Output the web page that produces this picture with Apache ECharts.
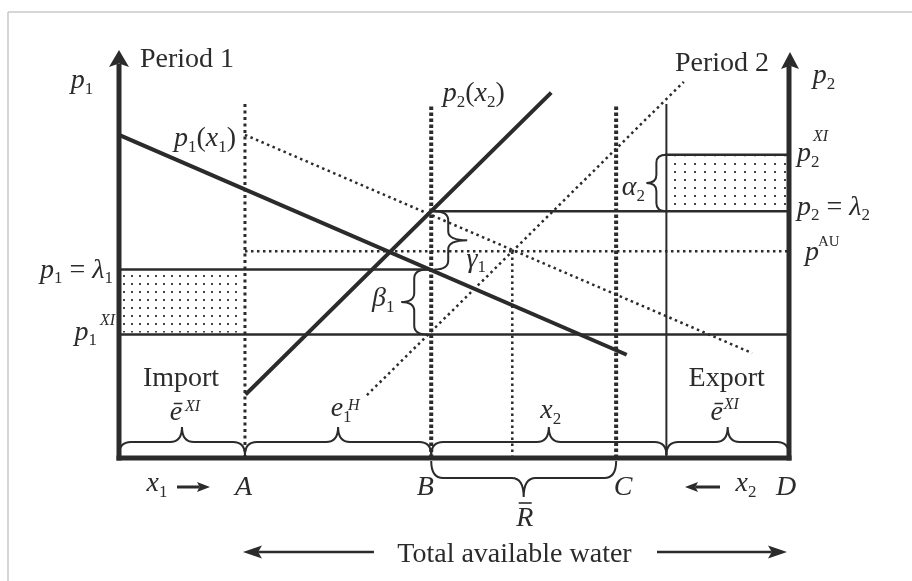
<!DOCTYPE html>
<html>
<head>
<meta charset="utf-8">
<script src="https://cdn.jsdelivr.net/npm/echarts@6/dist/echarts.min.js"></script>
<style>html,body{margin:0;padding:0;background:#fff}#c{width:912px;height:581px}</style>
</head>
<body>
<div id="c"></div>
<script>
// ---------------- data (water 0..100 from left axis to D; price 0..100 up the axis) ----------------
const pointNames = ['A', 'B', 'C', 'D'];
const pointX = [18.8, 46.6, 74.2, 100];
const exportX = 81.7;          // start of the export block
const autarkyX = 58.7;         // quantity where the shifted curves cross
const priceNames = ['p2XI', 'lambda2', 'pAU', 'lambda1', 'p1XI'];
const priceY = [74.3, 60.5, 50.7, 46.2, 30.3];
const p1Curve = [[0, 79.2], [75.5, 25.5]];          // p1(x1)
const p1Shifted = [[18.8, 79.2], [94.5, 25.7]];     // dotted, shifted p1
const p2Curve = [[19.1, 15.9], [64.3, 89.2]];       // p2(x2)
const p2Shifted = [[37.0, 15.4], [84.3, 92.2]];     // dotted, shifted p2
const dividerTops = [87.5, 86.5, 86.5, 86.5];       // tops of A, B, C dotted lines and export line
const axisTops = [100, 99.5];                       // arrow tips of the left and right price axes

// ---------------- helpers ----------------
const FONT = "'Liberation Serif','Times New Roman',serif";
const INK = '#2b2b2b';
const X = {O: 0, E: exportX, R: autarkyX};
pointNames.forEach((n, i) => X[n] = pointX[i]);
const P = {};
priceNames.forEach((n, i) => P[n] = priceY[i]);
const mid = (a, b) => (a + b) / 2;

function seg(pts, width, dash, z) {
  return {
    type: 'line', data: pts, symbol: 'none', silent: true, animation: false, clip: false,
    z: z || 2,
    lineStyle: {color: INK, width: width, type: dash || 'solid', cap: dash ? 'butt' : 'square'}
  };
}

function makePattern(w, h) {
  const cv = document.createElement('canvas');
  cv.width = w; cv.height = h;
  const ctx = cv.getContext('2d');
  ctx.fillStyle = '#444';
  ctx.fillRect(Math.floor(w / 2) - 1, Math.floor(h / 2) - 1, 2, 2);
  return {image: cv, repeat: 'repeat'};
}
const patLeft = makePattern(8, 8);
const patRight = makePattern(10, 8);

function bracePath(a, b, side, h, t, r) {
  if (side === 'up' || side === 'down') {
    const s = side === 'up' ? -1 : 1;
    const y0 = a[1], xa = Math.min(a[0], b[0]), xb = Math.max(a[0], b[0]);
    const yb = y0 + s * h, yt = yb + s * t, xm = (xa + xb) / 2;
    return `M${xa} ${y0}Q${xa} ${yb} ${xa + r} ${yb}L${xm - r} ${yb}Q${xm} ${yb} ${xm} ${yt}` +
      `Q${xm} ${yb} ${xm + r} ${yb}L${xb - r} ${yb}Q${xb} ${yb} ${xb} ${y0}`;
  }
  const s = side === 'left' ? -1 : 1;
  const x0 = a[0], ya = Math.min(a[1], b[1]), yc = Math.max(a[1], b[1]);
  const xb = x0 + s * h, xt = xb + s * t, ym = (ya + yc) / 2;
  return `M${x0} ${ya}Q${xb} ${ya} ${xb} ${ya + r}L${xb} ${ym - r}Q${xb} ${ym} ${xt} ${ym}` +
    `Q${xb} ${ym} ${xb} ${ym + r}L${xb} ${yc - r}Q${xb} ${yc} ${x0} ${yc}`;
}

// brace specs: endpoints in data, shape in pixels
const braceSpecs = [
  {a: [0, 0], b: [X.A, 0], side: 'up', off: [0, -3], h: 13, t: 15, r: 12},
  {a: [X.A, 0], b: [X.B, 0], side: 'up', off: [0, -3], h: 13, t: 15, r: 12},
  {a: [X.B, 0], b: [X.E, 0], side: 'up', off: [0, -3], h: 13, t: 15, r: 12},
  {a: [X.E, 0], b: [X.D, 0], side: 'up', off: [0, -3], h: 13, t: 15, r: 12},
  {a: [X.B, 0], b: [X.C, 0], side: 'down', off: [0, 3], h: 17, t: 19, r: 12},
  {a: [X.B, P.lambda2], b: [X.B, P.lambda1], side: 'right', off: [3, 0], h: 14, t: 19, r: 9},
  {a: [X.B, P.lambda1], b: [X.B, P.p1XI], side: 'left', off: [-4, 0], h: 13, t: 13, r: 9},
  {a: [X.E, P.p2XI], b: [X.E, P.lambda2], side: 'left', off: [0, 0], h: 10, t: 10, r: 8}
];

const RICH = {
  r: {fontFamily: FONT, fontSize: 28, fill: INK, lineHeight: 34},
  i: {fontFamily: FONT, fontSize: 28, fontStyle: 'italic', fill: INK, lineHeight: 34},
  s: {fontFamily: FONT, fontSize: 17, fill: INK, lineHeight: 17, verticalAlign: 'bottom'},
  u: {fontFamily: FONT, fontSize: 16, fontStyle: 'italic', fill: INK, lineHeight: 16},
  ur: {fontFamily: FONT, fontSize: 15, fill: INK, lineHeight: 15}
};

const labelSpecs = [
  {at: [0, axisTops[0]], dx: 68, dy: 10, text: '{r|Period 1}'},
  {at: [X.D, axisTops[0]], dx: -67, dy: 14, text: '{r|Period 2}'},
  {at: [0, axisTops[0]], dx: -37, dy: 31, text: '{i|p}{s|1}'},
  {at: [X.D, axisTops[0]], dx: 35, dy: 26, text: '{i|p}{s|2}'},
  {at: p1Curve[0], dx: 86, dy: 4, text: '{i|p}{s|1}{r|(}{i|x}{s|1}{r|)}'},
  {at: p2Curve[1], dx: -76, dy: 0, text: '{i|p}{s|2}{r|(}{i|x}{s|2}{r|)}'},
  {at: [X.D, P.p2XI], dx: 8, dy: -1, align: 'left', text: '{i|p}{s|2}'},
  {at: [X.D, P.p2XI], dx: 24, dy: -18, align: 'left', text: '{u|XI}'},
  {at: [X.D, P.lambda2], dx: 8, dy: -4, align: 'left', text: '{i|p}{s|2}{r| = }{i|λ}{s|2}'},
  {at: [X.D, P.pAU], dx: 16, dy: 1, align: 'left', text: '{i|p}'},
  {at: [X.D, P.pAU], dx: 29, dy: -9, align: 'left', text: '{ur|AU}'},
  {at: [0, P.lambda1], dx: -6, dy: 1, align: 'right', text: '{i|p}{s|1}{r| = }{i|λ}{s|1}'},
  {at: [0, P.p1XI], dx: -22, dy: -2, align: 'right', text: '{i|p}{s|1}'},
  {at: [0, P.p1XI], dx: -19, dy: -14, align: 'left', text: '{u|XI}'},
  {at: [mid(0, X.A), 0], dx: -1, dy: -79, text: '{r|Import}'},
  {at: [mid(0, X.A), 0], dx: -6, dy: -45, text: '{i|ē}'},
  {at: [mid(0, X.A), 0], dx: 3, dy: -51, align: 'left', text: '{u|XI}'},
  {at: [mid(X.A, X.B), 0], dx: 3, dy: -49, text: '{i|e}{s|1}'},
  {at: [mid(X.A, X.B), 0], dx: 10, dy: -52, align: 'left', text: '{u|H}'},
  {at: [mid(X.B, X.E), 0], dx: 2, dy: -47, text: '{i|x}{s|2}'},
  {at: [mid(X.E, X.D), 0], dx: -1, dy: -79, text: '{r|Export}'},
  {at: [mid(X.E, X.D), 0], dx: -11, dy: -45, text: '{i|ē}'},
  {at: [mid(X.E, X.D), 0], dx: -4, dy: -53, align: 'left', text: '{u|XI}'},
  {at: [0, 0], dx: 38, dy: 26, text: '{i|x}{s|1}'},
  {at: [X.A, 0], dx: -1.5, dy: 30, text: '{i|A}'},
  {at: [X.B, 0], dx: -6, dy: 30, text: '{i|B}'},
  {at: [X.C, 0], dx: 7, dy: 30, text: '{i|C}'},
  {at: [X.D, 0], dx: -3, dy: 30, text: '{i|D}'},
  {at: [X.D, 0], dx: -43, dy: 26, text: '{i|x}{s|2}'},
  {at: [mid(X.B, X.C), 0], dx: 1, dy: 61, text: '{i|R}'},
  {at: [X.B, P.lambda1], dx: 45, dy: -10, text: '{i|γ}{s|1}'},
  {at: [X.B, mid(P.lambda1, P.p1XI)], dx: -48, dy: -3, text: '{i|β}{s|1}'},
  {at: [X.E, mid(P.p2XI, P.lambda2)], dx: -33, dy: 5, text: '{i|α}{s|2}'},
  {at: [mid(X.A, X.D), 0], dx: -2.5, dy: 97, text: '{r|Total available water}'}
];

// arrows: tip in data + pixel offset, direction, total length, head length, half width
const arrowSpecs = [
  {tip: [0, axisTops[0]], off: [0, 0], dir: 'up', len: 0, head: 17, half: 10},
  {tip: [X.D, axisTops[1]], off: [1, 0], dir: 'up', len: 0, head: 17, half: 9},
  {tip: [0, 0], off: [91, 29], dir: 'right', len: 33, head: 13, half: 5, lw: 3},
  {tip: [X.D, 0], off: [-104, 29], dir: 'left', len: 35, head: 13, half: 5, lw: 3},
  {tip: [X.A, 0], off: [-2, 94], dir: 'left', len: 131, head: 19, half: 6.5, lw: 2.5},
  {tip: [X.D, 0], off: [-2, 94], dir: 'right', len: 130, head: 19, half: 6.5, lw: 2.5}
];

function renderDecor(params, api) {
  const children = [];
  const pt = (d, off) => { const p = api.coord(d); return [p[0] + (off ? off[0] : 0), p[1] + (off ? off[1] : 0)]; };
  // dotted fill areas
  [[[0, P.lambda1], [X.A, P.p1XI], patLeft], [[X.E, P.p2XI], [X.D, P.lambda2], patRight]].forEach(r => {
    const a = pt(r[0]), b = pt(r[1]);
    children.push({type: 'rect', z2: 0, shape: {x: a[0] + 3, y: a[1] + 2, width: b[0] - a[0] - 6, height: b[1] - a[1] - 4},
      style: {fill: r[2]}});
  });
  // braces
  braceSpecs.forEach(bs => {
    const a = pt(bs.a, bs.off), b = pt(bs.b, bs.off);
    children.push({type: 'path', z2: 5, shape: {pathData: bracePath(a, b, bs.side, bs.h, bs.t, bs.r)},
      style: {stroke: INK, fill: null, lineWidth: 2}});
  });
  // arrows
  arrowSpecs.forEach(as => {
    const p = pt(as.tip, as.off);
    const v = {up: [0, -1], down: [0, 1], left: [-1, 0], right: [1, 0]}[as.dir];
    const n = [-v[1], v[0]];
    const base = [p[0] - v[0] * as.head, p[1] - v[1] * as.head];
    const notch = [p[0] - v[0] * as.head * 0.8, p[1] - v[1] * as.head * 0.8];
    if (as.len > 0) {
      children.push({type: 'line', z2: 5, shape: {x1: notch[0], y1: notch[1],
        x2: p[0] - v[0] * as.len, y2: p[1] - v[1] * as.len},
        style: {stroke: INK, lineWidth: as.lw}});
    }
    children.push({type: 'polygon', z2: 6, shape: {points: [p,
      [base[0] + n[0] * as.half, base[1] + n[1] * as.half], notch,
      [base[0] - n[0] * as.half, base[1] - n[1] * as.half]]}, style: {fill: INK}});
  });
  // R bar
  const rb = pt([mid(X.B, X.C), 0], [1, 45]);
  children.push({type: 'line', z2: 5, shape: {x1: rb[0] - 6, y1: rb[1], x2: rb[0] + 7, y2: rb[1]},
    style: {stroke: INK, lineWidth: 1.6}});
  // labels
  labelSpecs.forEach(l => {
    const p = pt(l.at, [l.dx, l.dy]);
    children.push({type: 'text', z2: 10, x: p[0], y: p[1], style: {text: l.text, rich: RICH,
      align: l.align || 'center', verticalAlign: 'middle', fill: INK, fontFamily: FONT, fontSize: 28}});
  });
  return {type: 'group', children: children};
}

const series = [
  // axes
  seg([[0, 0], [0, 96]], 5, null, 4),
  seg([[X.D, 0], [X.D, 95.5]], 5, null, 4),
  seg([[0, 0], [X.D, 0]], 5, null, 4),
  // horizontal price levels
  seg([[X.E, P.p2XI], [X.D, P.p2XI]], 2.5),
  seg([[X.B, P.lambda2], [X.D, P.lambda2]], 2.5),
  seg([[X.A, P.pAU], [X.D, P.pAU]], 2.5, [2.5, 3.5]),
  seg([[0, P.lambda1], [X.B, P.lambda1]], 2.5),
  seg([[0, P.p1XI], [X.D, P.p1XI]], 2.5),
  // verticals
  seg([[X.A, 0], [X.A, dividerTops[0]]], 3, [3, 3.5]),
  seg([[X.B, 0], [X.B, dividerTops[1]]], 4, [3.5, 2.5]),
  seg([[X.C, 0], [X.C, dividerTops[2]]], 4, [3.5, 2.5]),
  seg([[X.E, 0], [X.E, dividerTops[3]]], 2),
  seg([[X.R, 0], [X.R, P.pAU]], 2.5, [2.5, 3.5]),
  // curves
  seg(p1Shifted, 2.5, [2.5, 3.5]),
  seg(p2Shifted, 2.5, [2.5, 3.5]),
  seg(p1Curve, 4, null, 3),
  seg(p2Curve, 4, null, 3),
  {type: 'custom', coordinateSystem: 'cartesian2d', renderItem: renderDecor, data: [[0, 0]],
    silent: true, animation: false, clip: false, z: 5}
];

const chart = echarts.init(document.getElementById('c'), null, {renderer: 'canvas'});
chart.setOption({
  animation: false,
  backgroundColor: '#fff',
  grid: {left: 119, top: 50, width: 670, height: 408},
  xAxis: {type: 'value', min: 0, max: 100, show: false},
  yAxis: {type: 'value', min: 0, max: 100, show: false},
  graphic: [
    {type: 'line', silent: true, shape: {x1: 8, y1: 12, x2: 912, y2: 12}, style: {stroke: '#c9c9c9', lineWidth: 1.5}},
    {type: 'line', silent: true, shape: {x1: 8, y1: 12, x2: 8, y2: 581}, style: {stroke: '#c9c9c9', lineWidth: 1.5}}
  ],
  series: series
});
</script>
</body>
</html>
